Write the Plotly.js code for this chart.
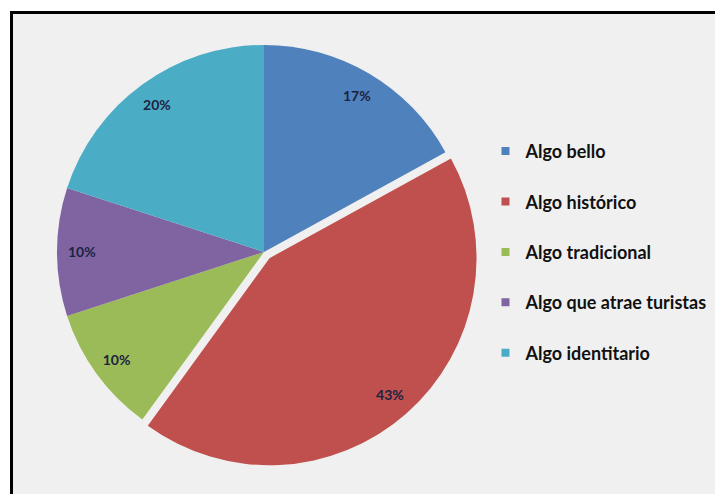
<!DOCTYPE html>
<html>
<head>
<meta charset="utf-8">
<script src="https://cdn.plot.ly/plotly-3.0.1.min.js"></script>
<style>
  html, body { margin: 0; padding: 0; background: #ffffff; }
  #frame { position: absolute; left: 10px; top: 11px; width: 705px; height: 483px;
           box-sizing: border-box; border-left: 3px solid #000; border-top: 3px solid #000;
           background: #f0f0f0; }
  #chart { position: absolute; left: 0; top: 0; width: 715px; height: 494px; }
</style>
</head>
<body>
<div id="frame"></div>
<div id="chart"></div>
<script>
// Data
const categories = ["Algo bello", "Algo histórico", "Algo tradicional", "Algo que atrae turistas", "Algo identitario"];
const percentages = [17, 43, 10, 10, 20];
const colors = ["#4F81BD", "#C0504D", "#9BBB59", "#8064A2", "#4BACC6"];
const pulls = [0, 0.04, 0, 0, 0];

const domain = { x: [0.0681, 0.6704], y: [0.048, 0.932] };
const FONT = "Lato, 'Open Sans', 'Liberation Sans', sans-serif";

const pieTrace = {
  type: "pie",
  labels: categories,
  values: percentages,
  sort: false,
  direction: "clockwise",
  rotation: 0,
  pull: pulls,
  domain: domain,
  marker: { colors: colors, line: { width: 0 } },
  textinfo: "none",
  hoverinfo: "label+percent",
  showlegend: false
};

// Transparent ring carrying the percentage labels near the outer edge
const labelTrace = {
  type: "pie",
  labels: categories,
  values: percentages,
  sort: false,
  direction: "clockwise",
  rotation: 0,
  pull: pulls,
  hole: 0.76,
  domain: domain,
  marker: { colors: categories.map(() => "rgba(0,0,0,0)"), line: { width: 0 } },
  texttemplate: "%{value}%",
  textposition: "inside",
  insidetextorientation: "horizontal",
  textfont: { family: FONT, size: 14, color: "#1c2340", weight: "bold" },
  hoverinfo: "skip",
  showlegend: false
};

// Legend entries
const legendTraces = categories.map((c, i) => ({
  type: "scatter",
  mode: "markers",
  x: [null], y: [null],
  name: c,
  legendgroup: "g" + i,
  marker: { symbol: "square", size: 8, color: colors[i] },
  hoverinfo: "skip",
  showlegend: true
}));

const layout = {
  width: 715, height: 494,
  margin: { l: 0, r: 0, t: 0, b: 0 },
  paper_bgcolor: "rgba(0,0,0,0)",
  plot_bgcolor: "rgba(0,0,0,0)",
  xaxis: { visible: false, showgrid: false, zeroline: false },
  yaxis: { visible: false, showgrid: false, zeroline: false },
  showlegend: true,
  legend: {
    x: 0.679, y: 0.731, xanchor: "left", yanchor: "top",
    bgcolor: "rgba(0,0,0,0)",
    font: { family: FONT, size: 18, color: "#111111", weight: "bold" },
    traceorder: "grouped",
    tracegroupgap: 24,
    itemwidth: 30
  }
};

Plotly.newPlot("chart", [pieTrace, labelTrace, ...legendTraces], layout, { displayModeBar: false, staticPlot: true });
</script>
</body>
</html>
